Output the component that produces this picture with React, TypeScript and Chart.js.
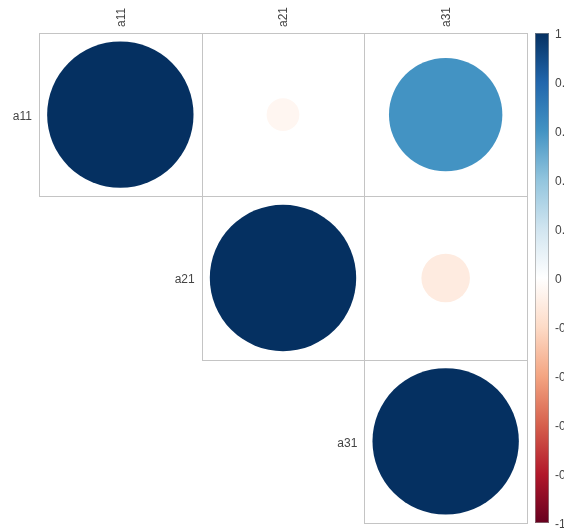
import React, { useEffect, useRef } from "react";
import { Chart, registerables } from "chart.js";

Chart.register(...registerables);

const variables = ["a11", "a21", "a31"];
const corrA11 = [1, -0.05, 0.6];
const corrA21 = [-0.05, 1, -0.11];
const corrA31 = [0.6, -0.11, 1];
const corrRows = [corrA11, corrA21, corrA31];
const colorbarTicks = [1, 0.8, 0.6, 0.4, 0.2, 0, -0.2, -0.4, -0.6, -0.8, -1];
const colorbarLabels = ["1", "0.8", "0.6", "0.4", "0.2", "0", "-0.2", "-0.4", "-0.6", "-0.8", "-1"];
const palette = ["#67001F", "#B2182B", "#D6604D", "#F4A582", "#FDDBC7", "#FFFFFF", "#D1E5F0", "#92C5DE", "#4393C3", "#2166AC", "#053061"];

function hexToRgb(h: string) {
  return [parseInt(h.slice(1, 3), 16), parseInt(h.slice(3, 5), 16), parseInt(h.slice(5, 7), 16)];
}
function colorFor(v: number) {
  const t = ((v + 1) / 2) * (palette.length - 1);
  const i = Math.min(Math.floor(t), palette.length - 2);
  const f = t - i;
  const a = hexToRgb(palette[i]);
  const b = hexToRgb(palette[i + 1]);
  const c = a.map((x, k) => Math.round(x + (b[k] - x) * f));
  return `rgb(${c[0]},${c[1]},${c[2]})`;
}

const TEXT_COLOR = "#444444";
const FONT = '12px "Liberation Sans", Arial, sans-serif';

const corrPlugin = {
  id: "corrDecor",
  beforeDatasetsDraw(chart: any) {
    const { ctx } = chart;
    const xs = chart.scales.x;
    const ys = chart.scales.y;
    ctx.save();
    ctx.strokeStyle = "#c4c4c4";
    ctx.lineWidth = 1;
    for (let i = 0; i < variables.length; i++) {
      for (let j = i; j < variables.length; j++) {
        const x0 = Math.round(xs.getPixelForValue(j - 0.5)) + 0.5;
        const x1 = Math.round(xs.getPixelForValue(j + 0.5)) + 0.5;
        const y0 = Math.round(ys.getPixelForValue(i - 0.5)) + 0.5;
        const y1 = Math.round(ys.getPixelForValue(i + 0.5)) + 0.5;
        ctx.strokeRect(x0, y0, x1 - x0, y1 - y0);
      }
    }
    ctx.restore();
  },
  afterDraw(chart: any) {
    const { ctx, chartArea } = chart;
    const xs = chart.scales.x;
    const ys = chart.scales.y;
    ctx.save();
    ctx.fillStyle = TEXT_COLOR;
    ctx.font = FONT;
    // column labels (rotated)
    variables.forEach((name, j) => {
      const cx = xs.getPixelForValue(j);
      ctx.save();
      ctx.translate(cx + 1, chartArea.top - 6);
      ctx.rotate(-Math.PI / 2);
      ctx.textAlign = "left";
      ctx.textBaseline = "middle";
      ctx.fillText(name, 0, 0);
      ctx.restore();
    });
    // row labels
    variables.forEach((name, i) => {
      const left = xs.getPixelForValue(i - 0.5);
      const cy = ys.getPixelForValue(i);
      ctx.textAlign = "right";
      ctx.textBaseline = "middle";
      ctx.fillText(name, left - 7, cy + 2);
    });
    // colorbar
    const barX = 535;
    const barW = 14;
    const top = chartArea.top;
    const bottom = chartArea.bottom;
    const grad = ctx.createLinearGradient(0, bottom, 0, top);
    palette.forEach((c, k) => grad.addColorStop(k / (palette.length - 1), c));
    ctx.fillStyle = grad;
    ctx.fillRect(barX, top, barW, bottom - top);
    ctx.strokeStyle = "rgba(150,150,150,0.6)";
    ctx.lineWidth = 1;
    ctx.strokeRect(barX + 0.5, top + 0.5, barW - 1, bottom - top - 1);
    ctx.fillStyle = TEXT_COLOR;
    ctx.textAlign = "left";
    ctx.textBaseline = "middle";
    colorbarTicks.forEach((v, k) => {
      const y = top + ((1 - v) / 2) * (bottom - top);
      ctx.fillText(colorbarLabels[k], 555, y + 2);
    });
    ctx.restore();
  },
};

export default function App() {
  const ref = useRef<HTMLCanvasElement | null>(null);
  useEffect(() => {
    if (!ref.current) return;
    const points: any[] = [];
    for (let i = 0; i < variables.length; i++) {
      for (let j = i; j < variables.length; j++) {
        points.push({ x: j, y: i, v: corrRows[i][j] });
      }
    }
    const radiusFor = (c: any) => {
      const xs = c.chart.scales.x;
      const ys = c.chart.scales.y;
      const cw = Math.abs(xs.getPixelForValue(1) - xs.getPixelForValue(0));
      const ch = Math.abs(ys.getPixelForValue(1) - ys.getPixelForValue(0));
      const cell = Math.min(cw, ch);
      const v = c.raw ? c.raw.v : 0;
      return 0.45 * cell * Math.sqrt(Math.abs(v));
    };
    const chart = new Chart(ref.current, {
      type: "scatter",
      data: {
        datasets: [
          {
            data: points,
            pointRadius: radiusFor,
            pointHoverRadius: radiusFor,
            backgroundColor: (c: any) => colorFor(c.raw ? c.raw.v : 0),
            borderWidth: 0,
          } as any,
        ],
      },
      options: {
        responsive: false,
        animation: false,
        layout: { padding: { left: 39, right: 37, top: 33, bottom: 6 } },
        plugins: { legend: { display: false }, tooltip: { enabled: false } },
        scales: {
          x: { type: "linear", min: -0.5, max: 2.5, display: false },
          y: { type: "linear", min: -0.5, max: 2.5, reverse: true, display: false },
        },
      } as any,
      plugins: [corrPlugin],
    });
    return () => chart.destroy();
  }, []);
  return (
    <div style={{ position: "fixed", left: 0, top: 0, width: 564, height: 529, background: "#fff" }}>
      <canvas ref={ref} width={564} height={529} />
    </div>
  );
}
